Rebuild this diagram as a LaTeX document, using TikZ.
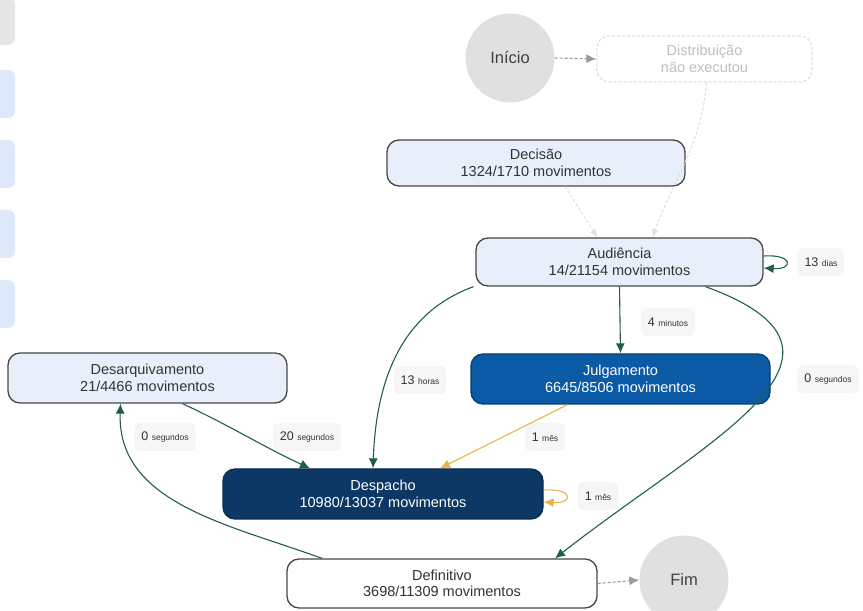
\documentclass[tikz,border=0pt]{standalone}
\usepackage{fontspec}
\setmainfont{Liberation Sans}
\usetikzlibrary{arrows.meta}
\definecolor{azulclaro}{HTML}{E8EEFA}
\definecolor{azulmedio}{HTML}{0B5AA6}
\definecolor{azulescuro}{HTML}{0D3866}
\definecolor{borda}{HTML}{474747}
\definecolor{verde}{HTML}{1F5E48}
\definecolor{ouro}{HTML}{E6B44A}
\definecolor{cinza}{HTML}{E0E0E0}
\definecolor{cinzatraco}{HTML}{9A9A9A}
\definecolor{fundoetiq}{HTML}{F6F6F6}
\definecolor{botao}{HTML}{DDE8FA}
\newcommand{\unid}[1]{{\fontsize{8.5}{10}\selectfont #1}}

\begin{document}
\begin{tikzpicture}[x=1pt, y=1pt,
    etapa/.style={draw=borda, line width=1.3pt, rounded corners=12pt, fill=azulclaro,
        align=center, text=black!80, inner sep=0pt, font=\fontsize{14.5}{16.5}\selectfont},
    forte/.style={etapa, fill=azulmedio, draw=azulmedio!70!black, text=white},
    muitoforte/.style={etapa, fill=azulescuro, draw=azulescuro!80!black, text=white},
    extremo/.style={circle, fill=cinza, minimum size=89, inner sep=0pt, text=black!75,
        font=\fontsize{16.5}{18}\selectfont},
    etiq/.style={fill=fundoetiq, rounded corners=5pt, inner sep=7pt, minimum height=28,
        text=black!80, font=\fontsize{12.5}{14}\selectfont},
    fluxo/.style={verde, line width=1.1pt, -{Latex[length=10pt,width=9pt]}},
    lento/.style={ouro, line width=1.1pt, -{Latex[length=10pt,width=9pt]}},
    inicial/.style={cinzatraco, line width=1.1pt, dash pattern=on 3pt off 2pt, -{Latex[length=10pt,width=9pt]}},
    apagado/.style={cinza, line width=1.1pt, dash pattern=on 3pt off 2pt, -{Latex[length=8pt,width=7pt]}}
]
\useasboundingbox (0,0) rectangle (863,611);
\clip (0,0) rectangle (863,611);

% botoes cortados na margem esquerda
\fill[cinza!80, rounded corners=7pt] (-30,566) rectangle (15,614);
\foreach \y in {493,423,353,283}
    \fill[botao, rounded corners=7pt] (-30,\y) rectangle (15,\y+48);

\node[extremo] (inicio) at (510,553) {Início};
\node[etapa, draw=cinza, dash pattern=on 3pt off 2pt, fill=white, text=black!25,
    minimum width=215, minimum height=46] (distrib) at (704.5,552) {Distribuição\\não executou};
\node[etapa, minimum width=298, minimum height=46] (decisao) at (536,448) {Decisão\\1324/1710 movimentos};
\node[etapa, minimum width=287, minimum height=48] (audiencia) at (619.5,349) {Audiência\\14/21154 movimentos};
\node[forte, minimum width=299, minimum height=50] (julgamento) at (620.5,232) {Julgamento\\6645/8506 movimentos};
\node[etapa, minimum width=279, minimum height=50] (desarq) at (147.5,233) {Desarquivamento\\21/4466 movimentos};
\node[muitoforte, minimum width=320, minimum height=50] (despacho) at (383,117) {Despacho\\10980/13037 movimentos};
\node[etapa, fill=white, minimum width=310, minimum height=49] (definitivo) at (442,27.5) {Definitivo\\3698/11309 movimentos};
\node[extremo] (fim) at (684,31) {Fim};

\node[etiq] (t1) at (821,349) {13 \unid{dias}};
\node[etiq] (t2) at (668,289) {4 \unid{minutos}};
\node[etiq] (t3) at (420,231) {13 \unid{horas}};
\node[etiq] (t4) at (828,232) {0 \unid{segundos}};
\node[etiq] (t5) at (545,174) {1 \unid{mês}};
\node[etiq] (t6) at (598,115) {1 \unid{mês}};
\node[etiq] (t7) at (307,174) {20 \unid{segundos}};
\node[etiq] (t8) at (165,174) {0 \unid{segundos}};

\draw[inicial] (inicio.east) to (distrib.west);
\draw[apagado] ([xshift=29]decisao.south) to ([xshift=-22]audiencia.north);
\draw[apagado] ([xshift=2]distrib.south) to[out=-95, in=70] ([xshift=33]audiencia.north);
\draw[fluxo] ([yshift=6]audiencia.east) .. controls +(30,2) and +(30,-2) .. ([yshift=-6]audiencia.east);
\draw[fluxo] (audiencia.south) to (julgamento.north);
\draw[fluxo] ([xshift=-146]audiencia.south) to[out=200, in=88] ([xshift=-10]despacho.north);
\draw[fluxo] ([xshift=86]audiencia.south) to[out=-20, in=38, looseness=1.6] ([xshift=113]definitivo.north);
\draw[lento] ([xshift=-53]julgamento.south) to ([xshift=57]despacho.north);
\draw[lento] ([yshift=4]despacho.east) .. controls +(30,2) and +(30,-2) .. ([yshift=-8]despacho.east);
\draw[fluxo] ([xshift=35]desarq.south) to[out=-25, in=155] ([xshift=-73]despacho.north);
\draw[fluxo] ([xshift=-120]definitivo.north) to[out=160, in=-92] ([xshift=-27]desarq.south);
\draw[inicial] (definitivo.east) to (fim.west);
\end{tikzpicture}
\end{document}
